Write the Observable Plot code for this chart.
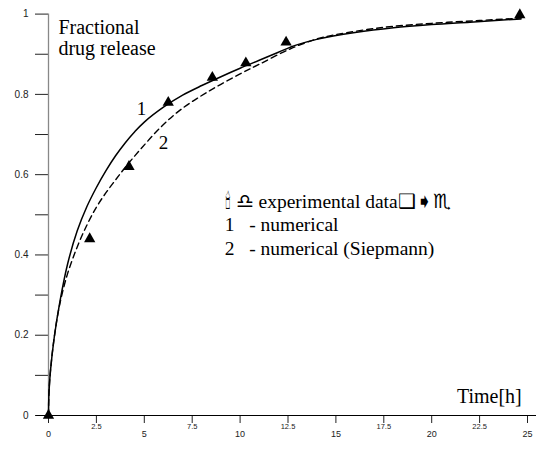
<!DOCTYPE html>
<html>
<head>
<meta charset="utf-8">
<script src="https://cdn.jsdelivr.net/npm/d3@7"></script>
<script src="https://cdn.jsdelivr.net/npm/@observablehq/plot@0.6"></script>
<style>
  html, body { margin: 0; padding: 0; background: #fff; }
  #chart svg { display: block; }
</style>
</head>
<body>
<div id="chart"></div>
<script>
// Experimental data (triangles)
const expTime = [0, 2.15, 4.2, 6.25, 8.55, 10.3, 12.4, 24.6];
const expRelease = [0, 0.44, 0.62, 0.78, 0.842, 0.878, 0.93, 0.998];

// Curve 1 - numerical (solid)
const num1Time = [0, 0.01, 0.03, 0.1, 0.3, 0.6, 1.0, 1.5, 2.0, 2.5, 3.0, 3.5, 4.0, 4.5, 5.0, 6.0, 7.0, 8.0, 9.0, 10.0, 11.0, 12.0, 12.6, 13.0, 14.0, 16.0, 18.0, 20.0, 22.0, 24.66];
const num1Release = [0, 0.035, 0.062, 0.11, 0.195, 0.285, 0.378, 0.46, 0.52, 0.568, 0.61, 0.647, 0.679, 0.707, 0.731, 0.768, 0.798, 0.822, 0.844, 0.865, 0.885, 0.905, 0.917, 0.924, 0.937, 0.954, 0.966, 0.974, 0.98, 0.988];

// Curve 2 - numerical (Siepmann) (dashed)
const num2Time = [0, 0.01, 0.03, 0.1, 0.3, 0.6, 1.0, 1.5, 2.0, 2.5, 3.0, 3.5, 4.0, 4.8, 5.85, 6.9, 8.3, 10.0, 11.0, 12.6, 14.0, 15.0, 17.5, 20.0, 22.5, 24.66];
const num2Release = [0, 0.035, 0.062, 0.11, 0.195, 0.28, 0.354, 0.42, 0.474, 0.519, 0.555, 0.587, 0.618, 0.663, 0.718, 0.762, 0.806, 0.851, 0.875, 0.913, 0.938, 0.949, 0.967, 0.977, 0.984, 0.99];

// Axis ticks
const yMajor = [0, 0.2, 0.4, 0.6, 0.8, 1];
const yMinor = [0.1, 0.3, 0.5, 0.7, 0.9];
const xMajor = [0, 5, 10, 15, 20, 25];
const xMinor = [2.5, 7.5, 12.5, 17.5, 22.5];

// Texts
const yTitle = "Fractional\ndrug release";
const xTitle = "Time[h]";
const curveLabels = [{t: 4.6, v: 0.748, label: "1"}, {t: 5.75, v: 0.665, label: "2"}];
const legendLines = ["\u{1F56F}\uFE0E \u264E\uFE0E experimental data\u2751\u27A7\u264F\uFE0E", "1   - numerical", "2   - numerical (Siepmann)"];

const exp = expTime.map((t, i) => ({t, v: expRelease[i]}));
const c1 = num1Time.map((t, i) => ({t, v: num1Release[i]}));
const c2 = num2Time.map((t, i) => ({t, v: num2Release[i]}));
const legend = legendLines.map((label, i) => ({t: 9.2, v: 0.517 - i * 0.058, label}));

const serif = "'Liberation Serif', 'DejaVu Serif', serif";
const sans = "'Liberation Sans', Arial, sans-serif";

const chart = Plot.plot({
  width: 536,
  height: 449,
  marginLeft: 48,
  marginRight: 9,
  marginTop: 13.6,
  marginBottom: 34,
  x: {domain: [0, 25], axis: null},
  y: {domain: [0, 1], axis: null},
  style: {background: "#fff", color: "#000"},
  marks: [
    // y axis
    Plot.axisY({ticks: yMajor, label: null, tickSize: 13, tickPadding: 7, fontSize: 10, fontFamily: sans, tickFormat: d3.format("~g"), stroke: "#222", fill: "#222"}),
    Plot.axisY({ticks: yMinor, label: null, tickSize: 13, tickFormat: () => "", stroke: "#222"}),
    Plot.ruleX([0], {stroke: "#888", strokeWidth: 1.3}),
    // x axis
    Plot.axisX({ticks: xMajor, label: null, tickSize: 8, tickPadding: 7, fontSize: 9, fontFamily: sans, tickFormat: d3.format("~g"), stroke: "#222", fill: "#222"}),
    Plot.axisX({ticks: xMinor, label: null, tickSize: 8, tickPadding: 0, fontSize: 7.5, fontFamily: sans, tickFormat: d3.format("~g"), stroke: "#222", fill: "#222"}),
    Plot.ruleY([0], {x1: -0.62, x2: 25.5, stroke: "#000", strokeWidth: 1.2, clip: false}),
    // curves
    Plot.line(c2, {x: "t", y: "v", stroke: "#000", strokeWidth: 1.4, strokeDasharray: "6,4", curve: "catmull-rom"}),
    Plot.line(c1, {x: "t", y: "v", stroke: "#000", strokeWidth: 1.5, curve: "catmull-rom"}),
    // experimental points
    Plot.dot(exp, {x: "t", y: "v", symbol: "triangle", r: 4.2, fill: "#000", stroke: "none"}),
    // texts
    Plot.text([yTitle], {x: 0.52, y: 0.897, text: d => d, textAnchor: "start", lineAnchor: "bottom", fontSize: 20, fontFamily: serif, lineHeight: 1.08, fill: "#000"}),
    Plot.text([xTitle], {x: 24.7, y: 0.031, text: d => d, textAnchor: "end", lineAnchor: "bottom", fontSize: 20, fontFamily: serif, fill: "#000"}),
    Plot.text(curveLabels, {x: "t", y: "v", text: "label", textAnchor: "start", lineAnchor: "bottom", fontSize: 19, fontFamily: serif, fill: "#000"}),
    Plot.text(legend, {x: "t", y: "v", text: "label", textAnchor: "start", lineAnchor: "bottom", fontSize: 19.5, fontFamily: serif, fill: "#000"})
  ]
});
document.getElementById("chart").appendChild(chart);
</script>
</body>
</html>
